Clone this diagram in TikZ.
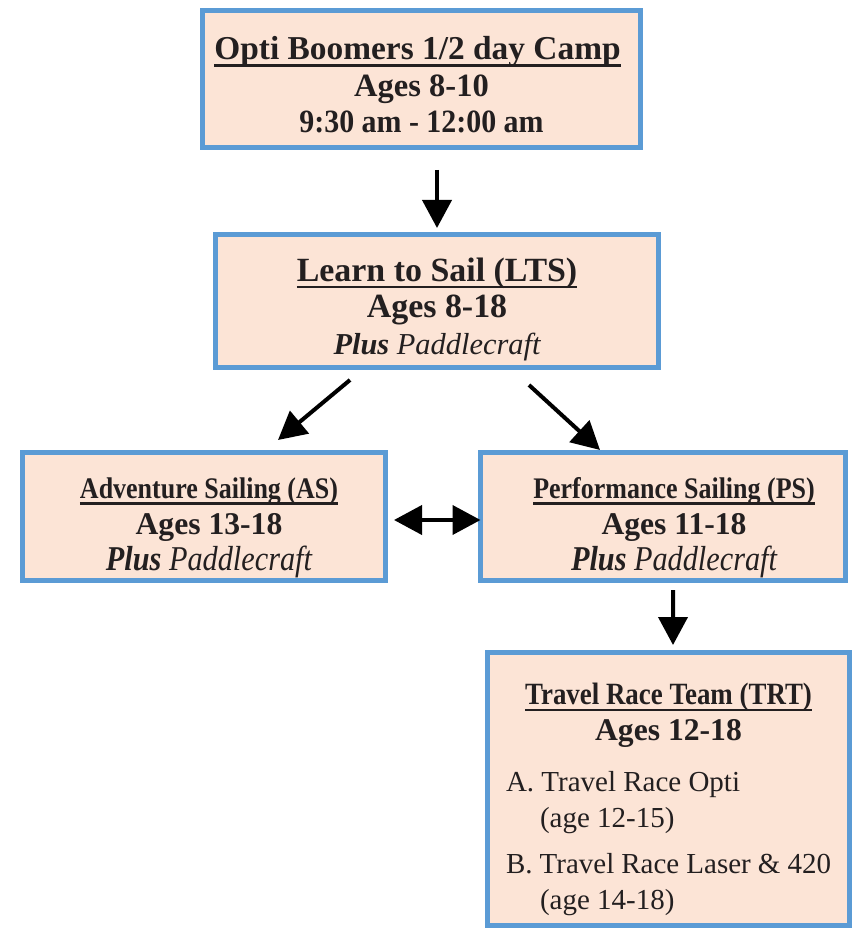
\documentclass[tikz,border=0pt]{standalone}
\usepackage{fontspec}
\setmainfont{Liberation Serif}
\newfontfamily\narrowserif[FakeStretch=0.87]{Liberation Serif}
\newfontfamily\tightserif[FakeStretch=0.92]{Liberation Serif}
\newsavebox{\headbox}
\newcommand{\ulhead}[1]{\sbox{\headbox}{#1}\leavevmode\rlap{\rule[-0.21em]{\wd\headbox}{1.4pt}}\usebox{\headbox}}
\newcommand{\topstrut}[1]{\rule{0pt}{\dimexpr 0.72em+#1\relax}}
\usetikzlibrary{positioning,arrows.meta}
\definecolor{boxblue}{HTML}{5B9BD5}
\definecolor{boxfill}{HTML}{FCE4D6}
\definecolor{ink}{HTML}{231F20}
\tikzset{
  arr/.style={line width=0.08cm, draw=black, -{Triangle[length=0.56cm,width=0.58cm]}},
  block/.style={draw=boxblue, line width=0.1cm, fill=boxfill, inner sep=0pt,
    outer sep=0pt, align=center, text=ink},
}

\begin{document}
\begin{tikzpicture}
    [node distance=1.7cm]
    \useasboundingbox (0,0) rectangle (17.08,-18.6);

    \node [block, minimum width=8.76cm, minimum height=2.74cm,
      font=\bfseries\fontsize{18.5}{20.7}\selectfont] (opti) at (8.43,-1.58)
    {
        {\fontsize{19}{20.7}\selectfont\topstrut{0.22cm}\ulhead{Opti Boomers 1/2 day Camp}\hspace*{0.16cm}}
        \\
        Ages 8-10
        \\
        {\tightserif 9:30 am - 12:00 am}
    };

    \node [block, minimum width=8.86cm, minimum height=2.66cm,
      font=\bfseries\fontsize{19.3}{20.9}\selectfont] (lts)
      [below=1.74cm of opti, xshift=0.31cm]
    {
        \topstrut{0.32cm}\ulhead{Learn to Sail (LTS)}
        \\
        Ages 8-18
        \\
        {\fontsize{17.3}{20.9}\selectfont{\itshape Plus} {\mdseries\itshape Paddlecraft}}
    };

    \node [block, minimum width=7.26cm, minimum height=2.56cm,
      font=\bfseries\fontsize{18}{20.5}\selectfont] (as)
      [below=of lts, xshift=-4.66cm]
    {
        \hspace*{0.2cm}{\narrowserif\fontsize{17}{20.5}\selectfont\topstrut{0.44cm}\ulhead{Adventure Sailing (AS)}}
        \\
        \hspace*{0.2cm}Ages 13-18
        \\
        \hspace*{0.2cm}{\narrowserif\fontsize{19.8}{20.5}\selectfont{\itshape Plus} {\mdseries\itshape Paddlecraft}}
    };

    \node [block, minimum width=7.3cm, minimum height=2.56cm,
      font=\bfseries\fontsize{18}{20.5}\selectfont] (ps)
      [right=1.9cm of as]
    {
        \hspace*{0.44cm}{\narrowserif\fontsize{17}{20.5}\selectfont\topstrut{0.44cm}\ulhead{Performance Sailing (PS)}}
        \\
        \hspace*{0.44cm}Ages 11-18
        \\
        \hspace*{0.44cm}{\narrowserif\fontsize{19.8}{20.5}\selectfont{\itshape Plus} {\mdseries\itshape Paddlecraft}}
    };

    \node [block, minimum width=7.24cm, minimum height=5.46cm,
      font=\bfseries\fontsize{18}{20.5}\selectfont] (trt)
      [below=1.44cm of ps, xshift=0.11cm]
    {
        {\narrowserif\fontsize{17.6}{20.5}\selectfont\topstrut{0.4cm}\ulhead{Travel Race Team (TRT)}}
        \\
        Ages 12-18
        \\[0.28cm]
        \parbox[t]{6.5cm}{\raggedright\mdseries\fontsize{16.5}{20.5}\selectfont
            A.\ Travel Race Opti\\
            \hspace*{0.68cm}(age 12-15)\\[0.2cm]
            B.\ Travel Race Laser \& 420\\
            \hspace*{0.68cm}(age 14-18)}
    };

    \draw[arr, shorten <=0.45cm, shorten >=0.13cm] (opti.south -| lts.north) -- (lts.north);
    \draw[arr] ([xshift=-1.74cm,yshift=-0.25cm]lts.south) -- ([xshift=1.48cm,yshift=0.25cm]as.north);
    \draw[arr] ([xshift=1.84cm,yshift=-0.35cm]lts.south) -- ([xshift=-1.26cm,yshift=0.05cm]ps.north);
    \draw[arr, {Triangle[length=0.56cm,width=0.58cm]}-{Triangle[length=0.56cm,width=0.58cm]},
      shorten <=0.17cm] ([yshift=-0.07cm]as.east) -- ([yshift=-0.07cm]ps.west);
    \draw[arr, shorten <=0.19cm, shorten >=0.15cm] ([xshift=0.2cm]ps.south) -- ([xshift=0.09cm]trt.north);

\end{tikzpicture}
\end{document}
